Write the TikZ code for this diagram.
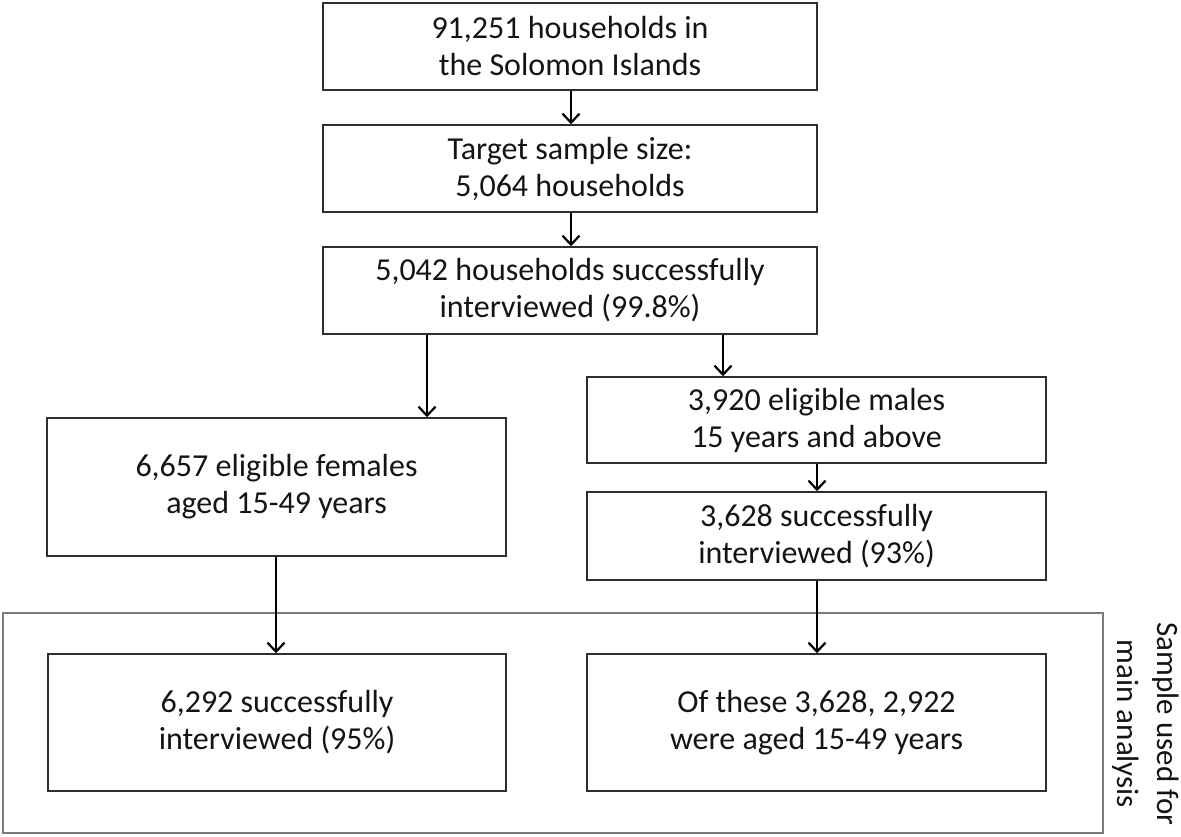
\documentclass[tikz,border=0pt]{standalone}
\usepackage{fontspec}
\setmainfont{Carlito}
\usetikzlibrary{arrows.meta}
\definecolor{boxc}{HTML}{2E2E2E}
\definecolor{outc}{HTML}{7A7A7A}
\definecolor{txt}{HTML}{141414}
\begin{document}
\begin{tikzpicture}[x=1pt,y=-1pt,
  box/.style={draw=boxc, line width=1.5pt, rectangle, inner sep=0pt, align=center,
    font=\fontsize{32}{37}\selectfont, text=txt},
  arr/.style={draw=black, line width=2.2pt, -{Straight Barb[length=9pt,width=17pt,line width=2.2pt]}}]
\useasboundingbox (0,0) rectangle (1181,837);
% outer frame
\node[draw=outc, line width=1.5pt, rectangle, inner sep=0pt, minimum width=1100pt, minimum height=220pt] (frame) at (553,723) {};
\node[box] (b1) at (570,46.5) [minimum width=494pt, minimum height=87pt] {91,251 households in\\the Solomon Islands};
\node[box] (b2) at (570,168.5) [minimum width=494pt, minimum height=87pt] {Target sample size:\\5,064 households};
\node[box] (b3) at (570,290.5) [minimum width=494pt, minimum height=87pt] {5,042 households successfully\\interviewed (99.8\%)};
\node[box] (b4) at (276.5,487) [minimum width=459pt, minimum height=138pt] {6,657 eligible females\\aged 15-49 years};
\node[box] (b5) at (816.5,420) [minimum width=459pt, minimum height=86pt] {3,920 eligible males\\15 years and above};
\node[box] (b6) at (816.5,536) [minimum width=459pt, minimum height=88pt] {3,628 successfully\\interviewed (93\%)};
\node[box] (b7) at (277,722.5) [minimum width=458pt, minimum height=137pt] {6,292 successfully\\interviewed (95\%)};
\node[box] (b8) at (816.5,722.5) [minimum width=459pt, minimum height=137pt] {Of these 3,628, 2,922\\were aged 15-49 years};
\node[rotate=-90, align=center, inner sep=0pt, text=txt, font=\fontsize{31}{40}\selectfont] (lab) at (1146,724) {Sample used for\\main analysis};
% connectors
\draw[arr] (b1.south -| 571,0) -- (b2.north -| 571,0);
\draw[arr] (b2.south -| 571,0) -- (b3.north -| 571,0);
\draw[arr] (b3.south -| 427,0) -- (b4.north -| 427,0);
\draw[arr] (b3.south -| 723,0) -- (b5.north -| 723,0);
\draw[arr] (b5.south -| 817,0) -- (b6.north -| 817,0);
\draw[arr] (b4.south -| 276,0) -- (b7.north -| 276,0);
\draw[arr] (b6.south -| 817,0) -- (b8.north -| 817,0);
\end{tikzpicture}
\end{document}
